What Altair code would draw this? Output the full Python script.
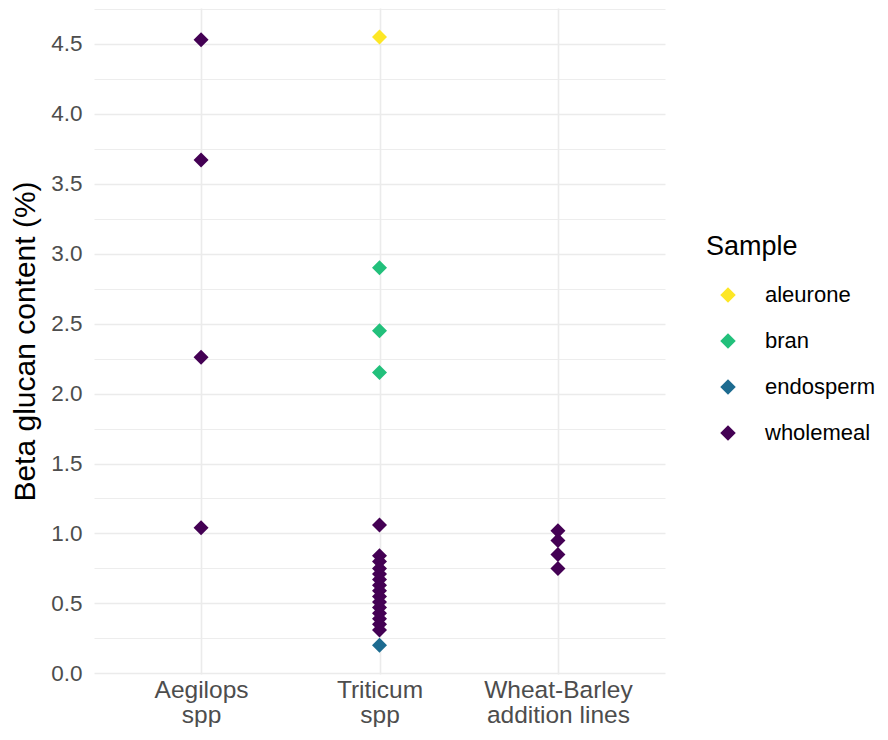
import altair as alt
import pandas as pd

groups = (["Aegilops spp"] * 4
          + ["Triticum spp"] * 20
          + ["Wheat-Barley addition lines"] * 4)
samples = (["wholemeal"] * 4
           + ["aleurone", "bran", "bran", "bran", "endosperm"] + ["wholemeal"] * 15
           + ["wholemeal"] * 4)
values = ([4.53, 3.67, 2.26, 1.04]
          + [4.55, 2.90, 2.45, 2.15, 0.20,
             1.06, 0.84, 0.80, 0.75, 0.71, 0.67, 0.63, 0.59, 0.55, 0.51, 0.47, 0.43, 0.39, 0.35, 0.31]
          + [1.02, 0.95, 0.85, 0.75])

sample_levels = ["aleurone", "bran", "endosperm", "wholemeal"]
sample_colors = ["#FDE725", "#22C07B", "#1D6B90", "#440154"]
group_levels = ["Aegilops spp", "Triticum spp", "Wheat-Barley addition lines"]
y_ticks = [i * 0.25 for i in range(0, 20)]

df = pd.DataFrame({"Group": groups, "Sample": samples, "Beta": values})

FONT = "Liberation Sans"

chart = alt.Chart(df).mark_point(
    shape="diamond", filled=True, size=225, opacity=1
).encode(
    x=alt.X("Group:N", sort=group_levels,
            scale=alt.Scale(type="point", padding=0.6),
            axis=alt.Axis(title=None, grid=True, ticks=False, domain=False,
                          labelExpr="datum.value == 'Wheat-Barley addition lines' ? ['Wheat-Barley', 'addition lines'] : split(datum.value, ' ')",
                          labelFontSize=24.5, labelColor="#4D4D4D", labelFont=FONT,
                          labelLineHeight=25, labelPadding=4, labelAngle=0,
                          gridColor="#EBEBEB", gridWidth=1.6)),
    y=alt.Y("Beta:Q",
            scale=alt.Scale(domain=[-0.005, 4.757], nice=False, zero=False),
            axis=alt.Axis(title="Beta glucan content (%)", values=y_ticks,
                          labelExpr="datum.value % 0.5 == 0 ? format(datum.value, '.1f') : ''",
                          ticks=False, domain=False, grid=True,
                          gridColor="#EBEBEB",
                          gridWidth={"condition": {"test": "datum.value % 0.5 == 0", "value": 1.6}, "value": 0.9},
                          labelFontSize=22.5, labelColor="#4D4D4D", labelFont=FONT,
                          labelPadding=12, titleFontSize=30, titleFont=FONT,
                          titleFontWeight="normal", titleColor="#000000",
                          titlePadding=10)),
    color=alt.Color("Sample:N", sort=sample_levels,
                    scale=alt.Scale(domain=sample_levels, range=sample_colors),
                    legend=alt.Legend(title="Sample", orient="none", legendX=612, legendY=226,
                                      padding=0,
                                      symbolType="diamond", symbolSize=240,
                                      symbolStrokeWidth=0, symbolOffset=11,
                                      titleFontSize=27, titleFont=FONT, titleFontWeight="normal",
                                      titleColor="#000000", titlePadding=23,
                                      labelFontSize=22, labelFont=FONT, labelColor="#000000",
                                      labelOffset=26, rowPadding=24))
).properties(
    width=571, height=666,
    padding={"left": 2, "top": 0, "right": 0, "bottom": 0}
).configure_view(stroke=None)

chart.save("out.html", embed_options={"renderer": "svg", "actions": False})
